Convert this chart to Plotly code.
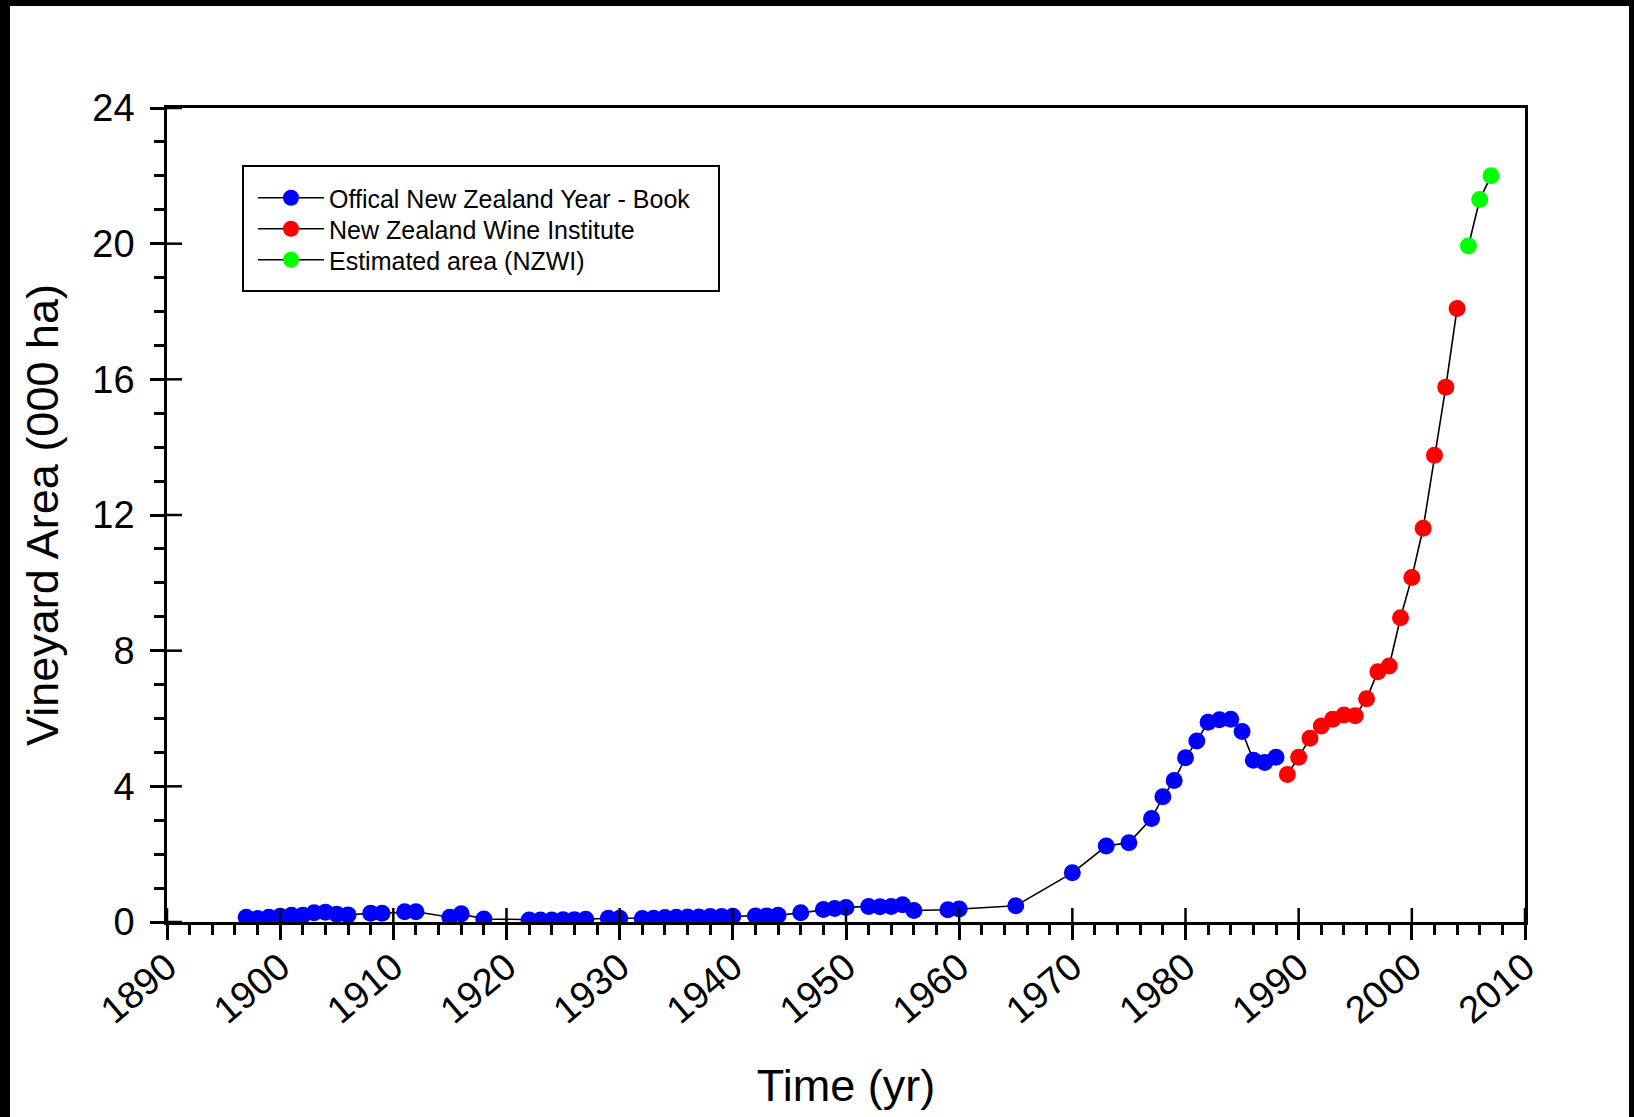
import plotly.graph_objects as go

FONT = "Liberation Sans, Arial, sans-serif"

# Official New Zealand Year-Book (blue)
yb_years = [1897, 1898, 1899, 1900, 1901, 1902, 1903, 1904, 1905, 1906,
            1908, 1909, 1911, 1912, 1915, 1916, 1918,
            1922, 1923, 1924, 1925, 1926, 1927, 1929, 1930,
            1932, 1933, 1934, 1935, 1936, 1937, 1938, 1939, 1940,
            1942, 1943, 1944, 1946, 1948, 1949, 1950,
            1952, 1953, 1954, 1955, 1956, 1959, 1960, 1965,
            1970, 1973, 1975, 1977, 1978, 1979, 1980, 1981, 1982, 1983,
            1984, 1985, 1986, 1987, 1988]
yb_area = [0.14, 0.10, 0.14, 0.17, 0.20, 0.20, 0.27, 0.29, 0.23, 0.21,
           0.26, 0.26, 0.30, 0.30, 0.14, 0.24, 0.09,
           0.06, 0.06, 0.06, 0.07, 0.07, 0.08, 0.11, 0.11,
           0.10, 0.11, 0.13, 0.14, 0.15, 0.15, 0.16, 0.16, 0.17,
           0.18, 0.18, 0.20, 0.27, 0.37, 0.40, 0.43,
           0.46, 0.45, 0.46, 0.51, 0.34, 0.36, 0.38, 0.48,
           1.45, 2.24, 2.34, 3.05, 3.69, 4.17, 4.84, 5.34, 5.89, 5.96,
           5.98, 5.62, 4.77, 4.70, 4.86]

# New Zealand Wine Institute (red)
nzwi_years = [1989, 1990, 1991, 1992, 1993, 1994, 1995, 1996, 1997, 1998,
              1999, 2000, 2001, 2002, 2003, 2004]
nzwi_area = [4.35, 4.86, 5.42, 5.78, 5.98, 6.10, 6.08, 6.58, 7.38, 7.55,
             8.97, 10.16, 11.61, 13.76, 15.77, 18.09]

# Estimated area (NZWI) (green)
est_years = [2005, 2006, 2007]
est_area = [19.93, 21.30, 22.00]

series_names = ["Offical New Zealand Year - Book",
                "New Zealand Wine Institute",
                "Estimated area (NZWI)"]
series_colors = ["#0000FF", "#FF0000", "#00FF00"]

x_range = [1890, 2010]
y_range = [0, 24]
x_major = list(range(1890, 2011, 10))
y_major = list(range(0, 25, 4))

W, H = 1634, 1117
ML, MR, MT, MB = 167, 109, 108, 195
pw, ph = W - ML - MR, H - MT - MB


def px(x):
    return (x - ML) / pw


def py(y):
    return (H - MB - y) / ph


legend_ids = ["legend", "legend2", "legend3"]
legend_rows = [198, 229, 260]  # pixel centres of the legend rows

fig = go.Figure()
for xs, ys, name, col, lg in zip([yb_years, nzwi_years, est_years],
                                 [yb_area, nzwi_area, est_area],
                                 series_names, series_colors, legend_ids):
    fig.add_trace(go.Scatter(
        x=xs, y=ys, name=name, mode="lines+markers", legend=lg,
        line=dict(color="black", width=1.6),
        marker=dict(color=col, size=17, line=dict(width=0)),
    ))

tickfont = dict(family=FONT, size=38, color="black")

legend_common = dict(
    xanchor="left", yanchor="middle",
    borderwidth=0, bgcolor="rgba(0,0,0,0)",
    font=dict(family=FONT, size=25, color="black"),
    itemwidth=66, indentation=10,
)
legends = {}
for lg, row in zip(legend_ids, legend_rows):
    legends[lg] = dict(legend_common, x=px(243), y=py(row))

fig.update_layout(
    width=W, height=H,
    margin=dict(l=ML, r=MR, t=MT, b=MB, autoexpand=False),
    paper_bgcolor="white", plot_bgcolor="white",
    font=dict(family=FONT, color="black"),
    showlegend=True,
    **legends,
    xaxis=dict(
        range=x_range, tick0=1890, dtick=10, tickmode="linear",
        ticks="outside", ticklen=15, tickwidth=2.5, tickcolor="black",
        minor=dict(dtick=2, tick0=1890, ticks="outside", ticklen=10,
                   tickwidth=2.5, tickcolor="black", showgrid=False),
        showline=True, linewidth=2.5, linecolor="black", mirror=True,
        showgrid=False, zeroline=False,
        tickangle=-40, tickfont=tickfont, ticklabelstandoff=-10,
        title=dict(text="Time (yr)", font=dict(family=FONT, size=45),
                   standoff=40),
    ),
    yaxis=dict(
        range=y_range, tick0=0, dtick=4, tickmode="linear",
        ticks="outside", ticklen=14, tickwidth=2.5, tickcolor="black",
        minor=dict(dtick=1, tick0=0, ticks="outside", ticklen=10,
                   tickwidth=2.5, tickcolor="black", showgrid=False),
        showline=True, linewidth=2.5, linecolor="black", mirror=True,
        showgrid=False, zeroline=False,
        tickfont=tickfont, ticklabelstandoff=8,
        title=dict(text="Vineyard Area (000 ha)",
                   font=dict(family=FONT, size=45), standoff=20),
    ),
)

# inner half of the major ticks (the major ticks cross the axis line)
for v in x_major:
    fig.add_shape(type="line", xref="x", yref="paper", x0=v, x1=v,
                  y0=0, y1=14 / ph, line=dict(color="black", width=2.5),
                  layer="above")
for v in y_major:
    fig.add_shape(type="line", xref="paper", yref="y", x0=0, x1=15 / pw,
                  y0=v, y1=v, line=dict(color="black", width=2.5),
                  layer="above")

# legend frame
fig.add_shape(type="rect", xref="paper", yref="paper",
              x0=px(243), x1=px(719), y0=py(291), y1=py(166),
              line=dict(color="black", width=2), fillcolor="rgba(0,0,0,0)",
              layer="above")

# black frame around the picture (as in the reference screenshot)
frame = [(0, 0, W, 6), (0, 0, 10, H), (1629, 0, W, H)]
for x0, y0, x1, y1 in frame:
    fig.add_shape(type="rect", xref="paper", yref="paper",
                  x0=px(x0), x1=px(x1), y0=py(y1), y1=py(y0),
                  fillcolor="black", line=dict(width=0), layer="above")

fig.write_html("out.html", include_plotlyjs=True,
               config=dict(displayModeBar=False),
               post_script="document.body.style.margin='0';document.body.style.overflow='hidden';")
